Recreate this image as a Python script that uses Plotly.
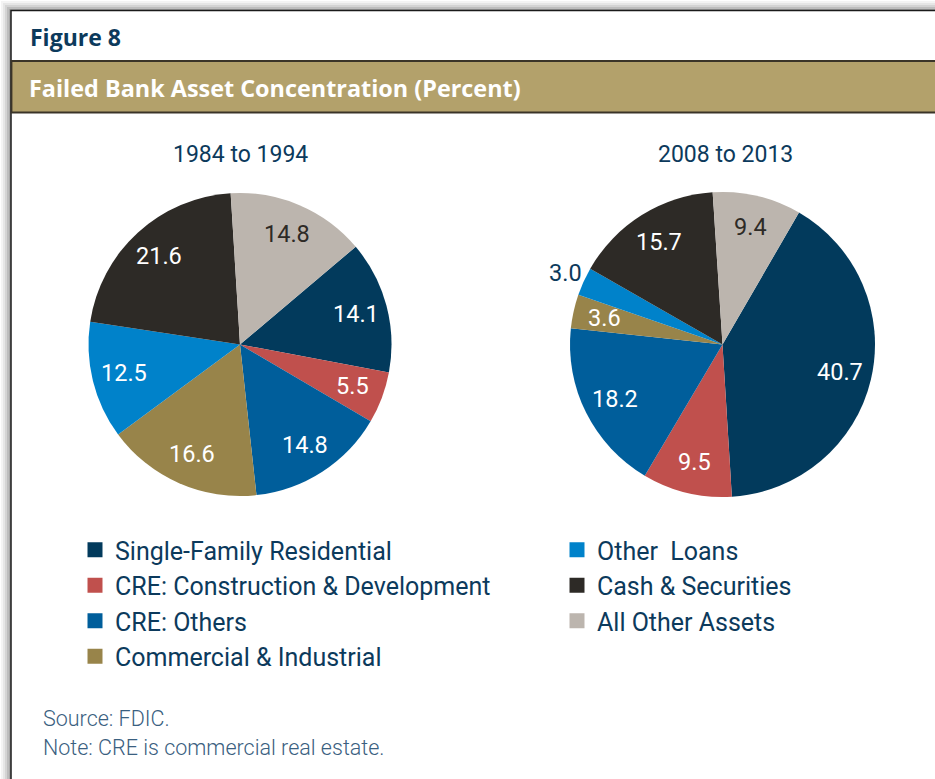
import math
import plotly.graph_objects as go

W, H = 935, 779

categories = ["Single-Family Residential", "CRE: Construction & Development", "CRE: Others",
              "Commercial & Industrial", "Other  Loans", "Cash & Securities", "All Other Assets"]
colors = ["#023a5c", "#c0504d", "#005e9b", "#98844a", "#0082ca", "#2d2a26", "#bcb5ae"]
values_1984_1994 = [14.1, 5.5, 14.8, 16.6, 12.5, 21.6, 14.8]
values_2008_2013 = [40.7, 9.5, 18.2, 3.6, 3.0, 15.7, 9.4]
period_labels = ["1984 to 1994", "2008 to 2013"]

NAVY = "#0c3a5c"
TAN = "#b3a16b"
FONT = "Roboto"
BOLD_FONT = "Open Sans"
text_colors = ["white", "white", "white", "white", "white", "white", "#2d2a26"]


def px(x):
    return x / W


def py(y):
    return 1 - y / H


fig = go.Figure()

pies = [
    dict(values=values_1984_1994, rotation=49.8, cx=240, cy=344.5, r=151.5,
         title=period_labels[0], tx=240, outside=[]),
    dict(values=values_2008_2013, rotation=30.1, cx=722.5, cy=344.5, r=152.5,
         title=period_labels[1], tx=725, outside=[4]),
]

annotations = []
for p in pies:
    fig.add_trace(go.Pie(
        labels=categories, values=p["values"], sort=False, direction="clockwise",
        rotation=p["rotation"], marker=dict(colors=colors, line=dict(width=0)),
        textinfo="none",
        domain=dict(x=[px(p["cx"] - p["r"]), px(p["cx"] + p["r"])],
                    y=[py(p["cy"] + p["r"]), py(p["cy"] - p["r"])]),
        showlegend=False, hoverinfo="label+value",
    ))
    # value labels placed along each slice's bisector
    total = sum(p["values"])
    start = p["rotation"]
    for i, v in enumerate(p["values"]):
        span = 360 * v / total
        mid = math.radians(start + span / 2)
        start += span
        outside = i in p["outside"]
        k = 1.13 if outside else 0.79
        lx = p["cx"] + k * p["r"] * math.sin(mid)
        ly = p["cy"] - k * p["r"] * math.cos(mid)
        annotations.append(dict(
            text=f"{v:.1f}", x=px(lx), y=py(ly), xanchor="center", yanchor="middle",
            font=dict(family=FONT, size=23.5, color=NAVY if outside else text_colors[i])))
    annotations.append(dict(
        text=p["title"], x=px(p["tx"]), y=py(155), xanchor="center", yanchor="middle",
        font=dict(family=FONT, size=23, color=NAVY)))

# Legend entries (two columns)
for i, (cat, col) in enumerate(zip(categories, colors)):
    fig.add_trace(go.Scatter(
        x=[None], y=[None], mode="markers", name=cat,
        marker=dict(symbol="square", size=15, color=col, line=dict(width=0)),
        legend="legend" if i < 4 else "legend2", legendgroup=cat, hoverinfo="skip",
    ))

legend_common = dict(
    font=dict(family=FONT, size=25, color=NAVY), bgcolor="rgba(0,0,0,0)",
    borderwidth=0, itemsizing="trace", traceorder="grouped", tracegroupgap=0,
    xanchor="left", yanchor="top", orientation="v",
)

shapes = []
for i, g in enumerate(["#f4f4f4", "#e6e6e6", "#d4d4d4", "#bdbdbd", "#a8a8a8"]):
    shapes.append(dict(type="rect", xref="paper", yref="paper",
                       x0=px(1 + i * 2), x1=px(12), y0=py(H + 5), y1=py(1 + i * 2),
                       fillcolor=g, line=dict(width=0), layer="below"))
    shapes.append(dict(type="rect", xref="paper", yref="paper",
                       x0=px(1 + i * 2), x1=px(W + 5), y0=py(11), y1=py(1 + i * 2),
                       fillcolor=g, line=dict(width=0), layer="below"))
shapes.append(dict(type="rect", xref="paper", yref="paper",
                   x0=px(11), x1=px(W + 10), y0=py(H + 10), y1=py(10.5),
                   fillcolor="white", line=dict(color="#1a1a1a", width=1.5), layer="below"))
shapes.append(dict(type="rect", xref="paper", yref="paper",
                   x0=px(11.5), x1=px(W + 10), y0=py(112.5), y1=py(61),
                   fillcolor=TAN, line=dict(color="#3a3428", width=1.8), layer="below"))

annotations += [
    dict(text="Figure 8", x=px(28), y=py(37), xanchor="left", yanchor="middle",
         font=dict(family=BOLD_FONT, size=23, color=NAVY, weight="bold")),
    dict(text="Failed Bank Asset Concentration (Percent)", x=px(27), y=py(88),
         xanchor="left", yanchor="middle",
         font=dict(family=BOLD_FONT, size=23.4, color="white", weight="bold")),
    dict(text="Source: FDIC.", x=px(41), y=py(718), xanchor="left", yanchor="middle",
         font=dict(family=FONT, size=21.5, color="#3a6080", weight=300)),
    dict(text="Note: CRE is commercial real estate.", x=px(41), y=py(747),
         xanchor="left", yanchor="middle",
         font=dict(family=FONT, size=21.5, color="#3a6080", weight=300)),
]
for a in annotations:
    a.update(xref="paper", yref="paper", showarrow=False)

fig.update_layout(
    width=W, height=H, margin=dict(l=0, r=0, t=0, b=0),
    paper_bgcolor="white", plot_bgcolor="rgba(0,0,0,0)",
    xaxis=dict(visible=False, domain=[0, 0.01]), yaxis=dict(visible=False, domain=[0, 0.01]),
    legend=dict(x=px(75), y=py(527), **legend_common),
    legend2=dict(x=px(557), y=py(527), **legend_common),
    shapes=shapes, annotations=annotations,
)

fig.write_html("out.html", config={"displayModeBar": False},
               post_script="document.body.style.margin='0';")
